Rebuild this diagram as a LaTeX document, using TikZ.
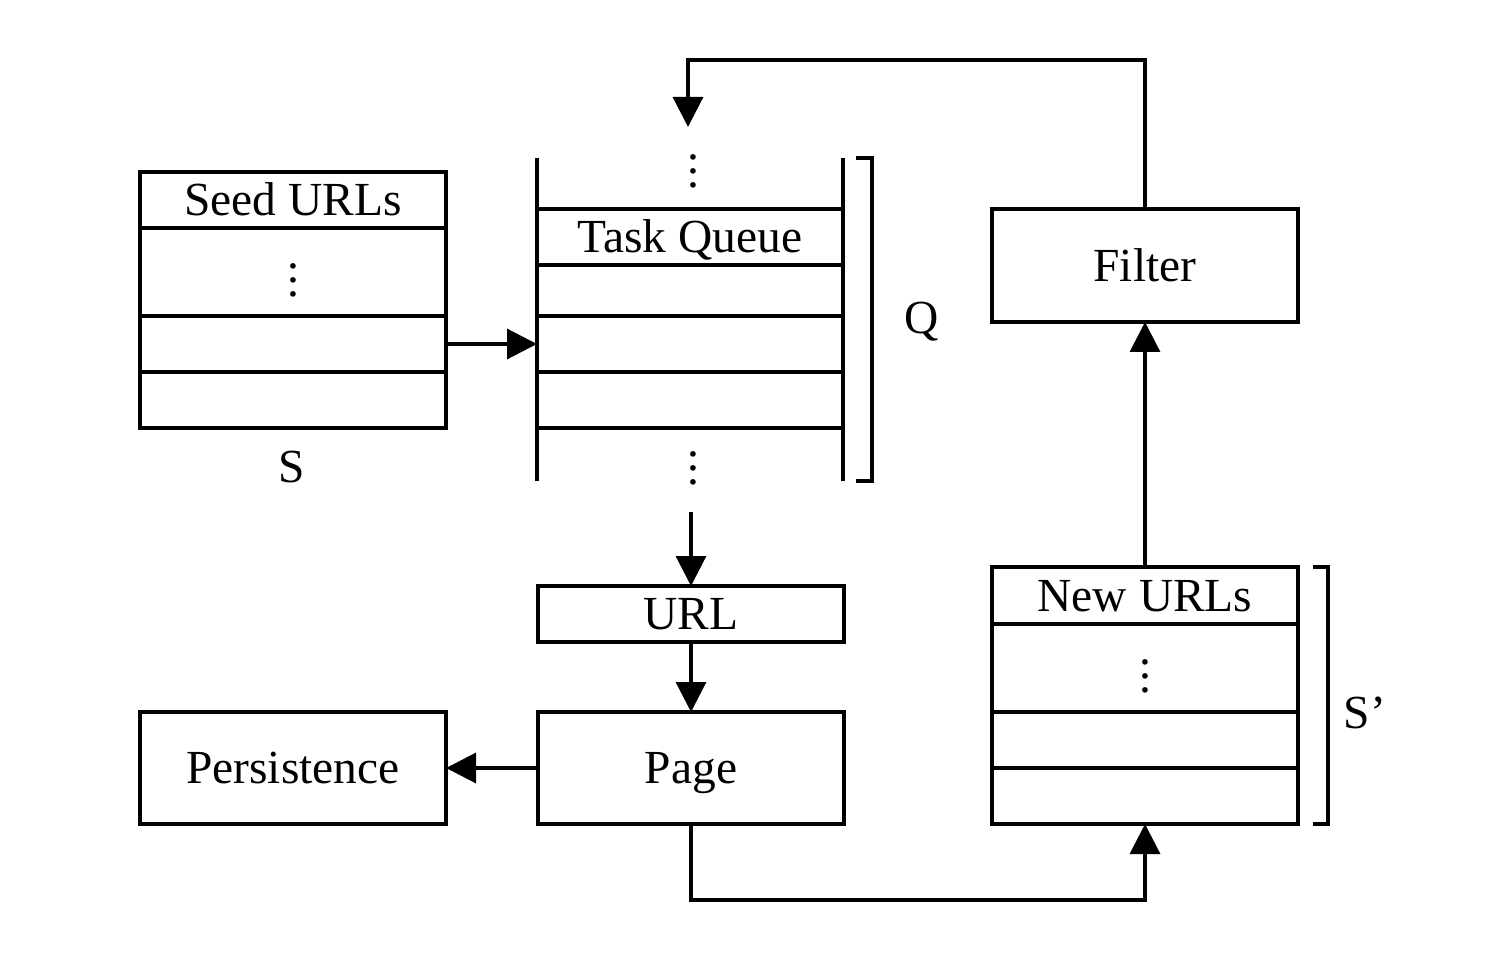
\documentclass[tikz,border=0pt]{standalone}
\usepackage{fontspec}
\setmainfont{Liberation Serif}
\usetikzlibrary{positioning,arrows.meta}

\begin{document}
\begin{tikzpicture}[line width=0.9pt,font=\fontsize{13.5}{16}\selectfont]
  \tikzstyle{txt}=[text height=9pt,text depth=0pt,inner sep=0pt,outer sep=0pt]
  \tikzstyle{cell}=[txt,draw,minimum width=3.06cm,minimum height=0.56cm]
  \tikzstyle{flow}=[-{Triangle[length=3mm,width=3mm]}]
  \useasboundingbox (0,0) rectangle (14.98,9.52);

  % seed urls
  \node[cell,anchor=north] (s1) at (2.93,7.80) {Seed URLs};
  \node[cell,minimum height=0.88cm,below=0pt of s1] (s2) {\raisebox{-2.5pt}{$\vdots$}};
  \node[cell,below=0pt of s2] (s3) {};
  \node[cell,below=0pt of s3] (s4) {};
  \node[txt] (S) at (2.92,4.85) {S};

  % task queue
  \node[txt] (qtop) at (6.93,7.80) {$\vdots$};
  \node[cell,anchor=north] (q1) at (6.90,7.43) {Task Queue};
  \node[cell,minimum height=0.51cm,below=0pt of q1] (q2) {};
  \node[cell,below=0pt of q2] (q3) {};
  \node[cell,below=0pt of q3] (q4) {};
  \node[txt] (qbot) at (6.93,4.83) {$\vdots$};
  \draw (q1.north west) -- +(0,0.51);
  \draw (q1.north east) -- +(0,0.51);
  \draw (q4.south west) -- +(0,-0.53);
  \draw (q4.south east) -- +(0,-0.53);
  \draw (8.56,7.94) -- (8.72,7.94) -- (8.72,4.71) -- (8.56,4.71);
  \node[txt] (Q) at (9.22,6.34) {Q};

  % url, page, persistence
  \node[cell,anchor=north] (url) at (6.91,3.66) {URL};
  \node[cell,minimum height=1.12cm] (page) at (6.91,1.84) {Page};
  \node[cell,minimum height=1.12cm] (persist) at (2.93,1.84) {Persistence};

  % filter and new urls
  \node[cell,minimum height=1.13cm] (filter) at (11.45,6.865) {Filter};
  \node[cell,minimum height=0.57cm,anchor=north] (n1) at (11.45,3.85) {New URLs};
  \node[cell,minimum height=0.88cm,below=0pt of n1] (n2) {\raisebox{-2.5pt}{$\vdots$}};
  \node[cell,below=0pt of n2] (n3) {};
  \node[cell,below=0pt of n3] (n4) {};
  \draw (13.13,3.85) -- (13.28,3.85) -- (13.28,1.28) -- (13.13,1.28);
  \node[txt] (Sp) at (13.65,2.39) {S’};

  \coordinate (qin) at (6.88,8.25);
  \coordinate (qout) at (6.91,4.40);

  \draw[flow] (s3.east) -- (q3.west);
  \draw[flow] (qout) -- (url.north);
  \draw[flow] (url.south) -- (page.north);
  \draw[flow] (page.west) -- (persist.east);
  \draw[flow] (page.south) -- ++(0,-0.76) -| (n4.south);
  \draw[flow] (n1.north) -- (filter.south);
  \draw[flow] (filter.north) -- ++(0,1.49) -| (qin);
\end{tikzpicture}
\end{document}
